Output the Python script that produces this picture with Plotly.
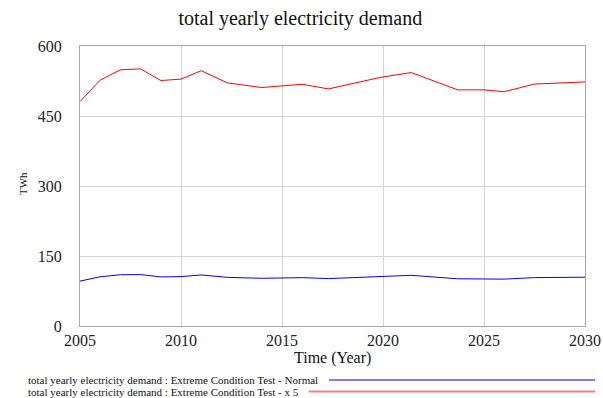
import plotly.graph_objects as go

# time points where the curves bend
years = [2005, 2006, 2007, 2008, 2009, 2010, 2011, 2012.3, 2014, 2015, 2016,
         2017.3, 2019.9, 2021.4, 2023.7, 2025, 2026, 2027.5, 2030]
normal = [96.2, 105.4, 109.8, 110.2, 105.2, 105.8, 109.4, 104.2, 102.2, 102.8, 103.6,
          101.6, 106.6, 108.6, 101.2, 101.2, 100.4, 103.7, 104.6]
x5 = [481, 527, 549, 551, 526, 529, 547, 521, 511, 514, 518,
      508, 533, 543, 506, 506, 502, 518.5, 523]

x_ticks = [2005, 2010, 2015, 2020, 2025, 2030]
y_ticks = [0, 150, 300, 450, 600]
names = ["total yearly electricity demand : Extreme Condition Test - Normal",
         "total yearly electricity demand : Extreme Condition Test - x 5"]
colors = ["#0000ff", "#ff0000"]

serif = "Liberation Serif"

fig = go.Figure()
fig.add_trace(go.Scatter(x=years, y=normal, mode="lines", name=names[0],
                         line=dict(color=colors[0], width=1)))
fig.add_trace(go.Scatter(x=years, y=x5, mode="lines", name=names[1],
                         line=dict(color=colors[1], width=1)))

fig.update_layout(
    width=603, height=398,
    margin=dict(l=80, r=18, t=46, b=72),
    plot_bgcolor="white", paper_bgcolor="white",
    showlegend=False,
    font=dict(family=serif, size=16, color="#222"),
    title=dict(text="total yearly electricity demand", x=0.498, xanchor="center",
               y=0.955, yanchor="middle", font=dict(family=serif, size=20, color="#111")),
)
fig.update_xaxes(range=[2005, 2030], tickvals=x_ticks, showgrid=True, gridcolor="#d4d4d4",
                 showline=True, linecolor="#a8a8a8", mirror=True, zeroline=False,
                 ticks="", tickfont=dict(size=16), automargin=False,
                 ticklabeloverflow="allow")
fig.update_yaxes(range=[0, 600], tickvals=y_ticks, showgrid=True, gridcolor="#d4d4d4",
                 showline=True, linecolor="#a8a8a8", mirror=True, zeroline=False,
                 ticks="", ticklabelstandoff=14, tickfont=dict(size=16), automargin=False)

# axis titles
fig.add_annotation(xref="paper", yref="paper", x=-0.129, y=0.51, textangle=-90,
                   text="TWh", showarrow=False, font=dict(family=serif, size=11, color="#111"))
fig.add_annotation(xref="paper", yref="paper", x=0.5, y=-0.114, yanchor="middle",
                   text="Time (Year)", showarrow=False, font=dict(family=serif, size=16, color="#111"))

# legend drawn by hand (long sample lines like the original)
leg_y = [-0.193, -0.234]
line_start = [0.493, 0.453]
for i in range(2):
    fig.add_annotation(xref="paper", yref="paper", x=-0.107, y=leg_y[i], xanchor="left",
                       yanchor="middle", text=names[i], showarrow=False,
                       font=dict(family=serif, size=11, color="#111"))
    fig.add_shape(type="line", xref="paper", yref="paper", x0=line_start[i], x1=1.02,
                  y0=leg_y[i], y1=leg_y[i], line=dict(color=colors[i], width=2), opacity=0.5)

# drop the default body margin so the figure fills the window exactly
fig.write_html("out.html", config={"displayModeBar": False},
               post_script="document.body.style.margin='0';document.body.style.overflow='hidden';")
